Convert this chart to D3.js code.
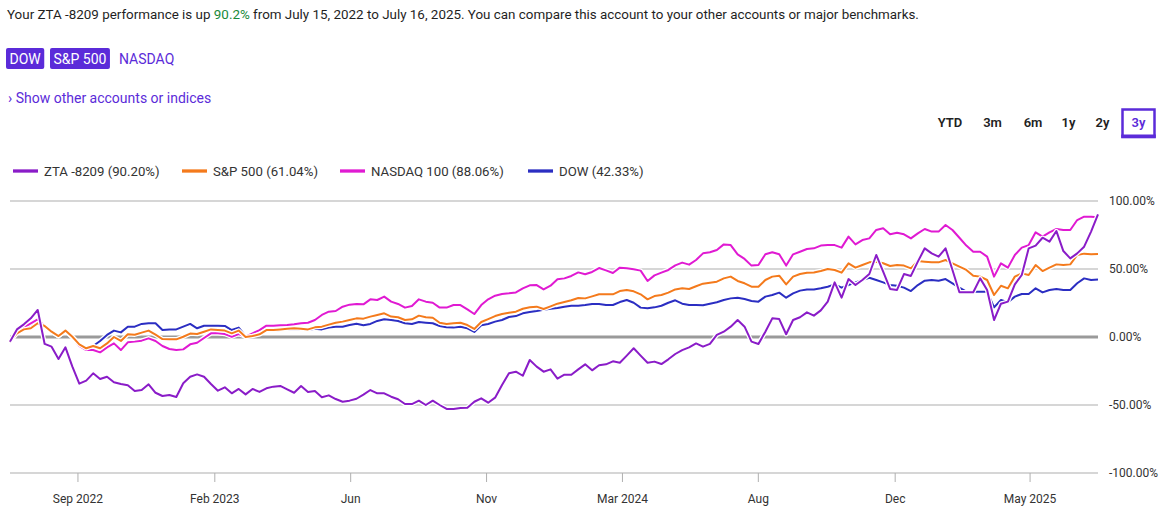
<!DOCTYPE html>
<html>
<head>
<meta charset="utf-8">
<script src="https://cdn.jsdelivr.net/npm/d3@7"></script>
<style>
  body { margin: 0; background: #fff; }
  svg text { font-family: Roboto, "Noto Sans", sans-serif; }
</style>
</head>
<body>
<div id="chart"></div>
<script>
// weekly returns (%), July 2022 -> July 2025
const ztaValues = [
  -3.4, 5.6, 9.3, 13.7, 19.9, -5.1, -7.1, -16.2, -7.6, -21.8, -34.3, -32.1, -26.7, -30.9, -29.2, -33.3, -34.6, -35.5, -39.7, -39.0,
  -34.8, -41.0, -43.4, -42.6, -44.1, -34.0, -29.2, -27.5, -29.2, -34.6, -39.5, -37.0, -41.4, -38.2, -42.2, -38.2, -40.4, -37.7, -36.5, -36.0,
  -38.5, -41.0, -36.0, -40.4, -39.7, -44.3, -42.9, -45.6, -47.6, -46.8, -45.4, -42.4,
  -39.0, -41.4, -41.4, -43.9, -45.8, -49.3, -49.3, -46.8, -50.0, -46.8, -50.0, -52.9, -52.9, -52.2, -52.0, -47.6, -45.1, -48.3, -44.6, -35.3,
  -26.7, -25.5, -28.5, -16.9, -21.8, -25.5, -23.8, -30.6, -27.7, -27.7, -23.8, -20.1, -24.5, -20.8, -20.1, -17.9, -18.9, -13.7, -8.3, -13.7,
  -18.9, -18.1, -19.9, -16.4, -12.5, -9.6, -7.6, -4.7, -7.1, -5.1,
  1.5, 3.9, 7.6, 12.5, 7.6, -3.4, -5.1, 3.9, 13.7, 13.2, 2.0, 12.5, 14.5, 18.1, 15.7, 19.6, 26.0, 40.2, 28.9, 42.6,
  38.2, 41.9, 46.3, 60.3, 48.0, 35.3, 34.6, 46.3, 44.9, 55.4, 65.2, 61.5, 59.1, 65.2, 49.3, 32.9, 32.9, 32.9, 43.1, 34.6,
  12.5, 24.5, 26.0, 38.7, 45.6, 65.2, 67.2, 73.0, 70.1, 77.9, 63.2, 57.8, 61.5, 66.4, 77.5, 90.2
];
const spxValues = [
  -3.4, 2.7, 5.6, 6.4, 10.1, 8.1, 3.9, 0.7, 4.7, 0.2, -5.4, -8.3, -6.6, -8.3, -4.7, 0.0, -2.9, 2.0, 1.7, 3.2,
  4.7, 1.7, -1.5, -1.7, -1.7, 0.2, 2.5, 2.2, 3.9, 5.6, 5.1, 4.7, 2.7, 4.7, 0.0, 0.7, 2.0, 5.1, 5.1, 5.6,
  6.1, 6.4, 6.1, 5.6, 7.1, 7.6, 9.1, 10.5, 11.3, 12.5, 13.7, 13.5,
  15.0, 16.2, 17.4, 15.0, 14.5, 12.5, 13.0, 15.7, 14.5, 14.2, 10.5, 9.6, 10.1, 10.5, 8.8, 5.9, 11.0, 13.2, 15.4, 16.9,
  17.9, 18.6, 20.8, 21.8, 22.3, 20.6, 22.5, 24.5, 25.7, 27.0, 28.7, 28.4, 29.9, 31.4, 31.4, 31.4, 33.8, 34.6, 33.6, 31.4,
  27.7, 30.1, 30.9, 32.6, 35.0, 35.8, 35.3, 37.3, 39.2, 39.9,
  40.7, 43.1, 44.4, 41.2, 39.5, 37.0, 37.0, 41.9, 44.4, 45.1, 38.7, 44.4, 46.3, 47.3, 47.5, 48.5, 50.0, 49.3, 47.3, 54.2,
  51.0, 52.9, 54.9, 55.4, 54.2, 52.2, 52.9, 52.5, 50.5, 55.9, 55.4, 54.9, 54.9, 56.6, 54.2, 51.7, 49.3, 45.1, 44.4, 41.9,
  30.9, 37.7, 35.8, 44.4, 46.8, 45.6, 52.9, 48.5, 51.0, 53.4, 52.9, 53.4, 60.3, 61.3, 60.8, 61.04
];
const ndxValues = [
  -3.4, 3.9, 7.1, 10.1, 13.0, 8.1, 3.9, 0.7, 4.7, -0.2, -6.6, -9.6, -9.6, -11.3, -7.6, -4.7, -9.6, -3.9, -3.4, -2.7,
  -1.0, -2.9, -6.6, -8.8, -9.6, -9.1, -5.4, -4.2, -0.7, 2.7, 2.7, 2.2, 0.2, 2.2, 0.2, 2.7, 5.1, 8.3, 8.3, 8.6,
  8.8, 9.3, 10.1, 10.5, 12.5, 16.2, 18.6, 19.1, 22.3, 23.8, 24.3, 24.0,
  27.7, 27.2, 29.7, 26.0, 24.3, 21.6, 22.8, 27.7, 26.0, 25.2, 21.6, 21.6, 23.5, 23.5, 20.3, 16.9, 23.5, 27.7, 30.4, 31.6,
  32.1, 32.8, 35.8, 38.0, 38.2, 35.0, 37.7, 42.4, 43.1, 44.9, 47.5, 46.1, 47.8, 50.7, 49.0, 47.1, 51.0, 50.5, 49.8, 48.8,
  41.2, 45.3, 47.3, 49.3, 52.7, 54.7, 53.2, 56.6, 61.5, 62.3,
  64.0, 68.1, 67.6, 60.8, 57.4, 52.5, 52.9, 60.8, 62.3, 60.8, 52.5, 60.8, 62.7, 64.7, 65.2, 67.2, 67.6, 67.6, 65.7, 73.8,
  68.1, 71.3, 72.5, 78.7, 79.9, 75.5, 76.7, 75.5, 72.5, 76.2, 79.4, 77.5, 77.5, 82.4, 78.7, 73.0, 67.2, 62.7, 62.7, 59.1,
  44.4, 54.2, 51.0, 60.3, 65.7, 67.6, 77.0, 73.8, 77.0, 79.4, 78.7, 78.7, 86.0, 88.5, 88.5, 88.06
];
const dowValues = [
  -3.4, 3.9, 6.4, 7.6, 12.0, 8.1, 3.9, 0.7, 4.7, 0.2, -5.4, -7.8, -6.6, -2.9, 1.5, 4.7, 3.4, 7.6, 7.6, 9.6,
  10.1, 10.1, 5.1, 5.6, 5.6, 7.6, 9.6, 6.4, 8.3, 8.3, 8.3, 8.1, 5.1, 6.9, 0.7, 2.0, 2.2, 4.7, 4.7, 5.1,
  5.6, 5.9, 5.6, 5.1, 6.1, 5.6, 6.9, 7.6, 7.6, 8.8, 9.8, 8.6,
  9.6, 11.8, 13.0, 12.5, 11.8, 10.1, 9.6, 11.0, 10.5, 10.1, 8.1, 7.1, 6.9, 7.6, 6.4, 3.7, 8.6, 9.6, 11.3, 12.5,
  14.7, 15.4, 17.4, 18.4, 19.1, 20.1, 20.8, 21.3, 22.3, 23.0, 23.0, 23.5, 24.3, 24.3, 23.5, 23.5, 25.7, 27.2, 25.2, 21.6,
  21.1, 21.8, 23.0, 25.2, 27.0, 24.5, 23.5, 23.5, 23.3, 24.5,
  25.5, 27.2, 28.4, 28.9, 27.9, 26.5, 26.0, 29.7, 30.9, 32.6, 28.9, 32.1, 34.1, 35.0, 35.0, 35.8, 37.0, 38.7, 36.3, 38.2,
  40.2, 41.9, 43.6, 41.9, 40.2, 38.2, 37.7, 36.3, 33.8, 38.2, 41.4, 41.9, 41.4, 42.6, 39.5, 36.3, 33.3, 33.3, 33.3, 33.3,
  21.8, 27.2, 25.5, 29.7, 31.6, 31.6, 35.8, 32.8, 34.6, 35.3, 34.6, 34.6, 39.5, 43.1, 41.9, 42.33
];

const startDate = new Date(2022, 6, 15);
const endDate = new Date(2025, 6, 16);

const legendLabels = ['ZTA -8209 (90.20%)', 'S&P 500 (61.04%)', 'NASDAQ 100 (88.06%)', 'DOW (42.33%)'];
const tickDates = ['2022-09-21', '2023-02-06', '2023-06-23', '2023-11-07', '2024-03-23', '2024-08-07', '2024-12-23', '2025-05-08'];
const tickLabels = ['Sep 2022', 'Feb 2023', 'Jun', 'Nov', 'Mar 2024', 'Aug', 'Dec', 'May 2025'];
const yTicks = [-100, -50, 0, 50, 100];
const periods = ['YTD', '3m', '6m', '1y', '2y', '3y'];
const benchmarks = ['DOW', 'S&P 500', 'NASDAQ'];

const purple = '#5b2bd9';
const colors = { zta: '#8a1cc8', spx: '#f47a1c', ndx: '#e01ad2', dow: '#2b2ec2' };

const width = 1164, height = 509;
const plot = { left: 10, right: 1098, top: 201, bottom: 473 };

const svg = d3.select('#chart').append('svg')
    .attr('width', width)
    .attr('height', height);

// header text
const title = svg.append('text')
    .attr('x', 7).attr('y', 18.5)
    .attr('font-size', 13.4)
    .attr('fill', '#1f1f1f');
title.append('tspan').text('Your ZTA -8209 performance is up ');
title.append('tspan').attr('fill', '#1a8a3a').text('90.2%');
title.append('tspan').text(' from July 15, 2022 to July 16, 2025. You can compare this account to your other accounts or major benchmarks.');

// benchmark toggles
const btnX = [6, 50, 119];
benchmarks.forEach((b, i) => {
    const g = svg.append('g');
    const t = g.append('text')
        .attr('x', btnX[i] + (i < 2 ? 3.5 : 0)).attr('y', 63.5)
        .attr('font-size', 14)
        .attr('fill', i < 2 ? '#fff' : purple)
        .text(b);
    if (i < 2) {
        const w = t.node().getComputedTextLength();
        g.insert('rect', 'text')
            .attr('x', btnX[i]).attr('y', 48)
            .attr('width', w + 7).attr('height', 21)
            .attr('rx', 2)
            .attr('fill', purple);
    }
});

svg.append('text')
    .attr('x', 8).attr('y', 103)
    .attr('font-size', 14)
    .attr('fill', purple)
    .text('\u203A Show other accounts or indices');

// period selector
const periodX = [950, 992.5, 1033, 1068.5, 1102.5, 1138.5];
svg.selectAll('.period')
    .data(periods)
    .enter().append('text')
        .attr('class', 'period')
        .attr('x', (d, i) => periodX[i])
        .attr('y', 127)
        .attr('text-anchor', 'middle')
        .attr('font-size', 13)
        .attr('font-weight', 600)
        .attr('fill', d => d === '3y' ? purple : '#222')
        .text(d => d);
svg.append('rect')
    .attr('x', 1122.5).attr('y', 109.5)
    .attr('width', 32).attr('height', 27)
    .attr('fill', 'none')
    .attr('stroke', purple)
    .attr('stroke-width', 2.5);
svg.append('rect')
    .attr('x', 1121.2).attr('y', 134.5)
    .attr('width', 34.6).attr('height', 3.8)
    .attr('fill', purple);

// legend
const legendX = [13, 182, 340, 528];
const legendColors = [colors.zta, colors.spx, colors.ndx, colors.dow];
const legend = svg.selectAll('.legend')
    .data(legendLabels)
    .enter().append('g')
        .attr('class', 'legend')
        .attr('transform', (d, i) => `translate(${legendX[i]}, 171)`);
legend.append('line')
    .attr('x1', 0).attr('x2', 25)
    .attr('stroke', (d, i) => legendColors[i])
    .attr('stroke-width', 3.3);
legend.append('text')
    .attr('x', 31).attr('y', 4.5)
    .attr('font-size', 13.2)
    .attr('fill', '#333')
    .text(d => d);

// scales
const n = ztaValues.length;
const idxToTime = d3.scaleLinear().domain([0, n - 1]).range([+startDate, +endDate]);
const dates = d3.range(n).map(i => new Date(idxToTime(i)));

const x = d3.scaleTime()
    .domain([startDate, endDate])
    .range([plot.left, plot.right]);
const y = d3.scaleLinear()
    .domain([-100, 100])
    .range([plot.bottom, plot.top]);

// grid
svg.append('g').selectAll('line')
    .data(yTicks)
    .enter().append('line')
        .attr('x1', plot.left).attr('x2', plot.right)
        .attr('y1', d => y(d)).attr('y2', d => y(d))
        .attr('stroke', d => d === 0 ? '#9a9a9a' : '#c8c8c8')
        .attr('stroke-width', d => d === 0 ? 3 : 1.5);

// y axis labels
const fmtPct = d => (d < 0 ? '-' : '') + Math.abs(d).toFixed(2) + '%';
const yAxis = d3.axisRight(y)
    .tickValues(yTicks)
    .tickSize(0)
    .tickPadding(11)
    .tickFormat(fmtPct);
const yAxisGroup = svg.append('g')
    .attr('transform', `translate(${plot.right}, 0)`)
    .call(yAxis);
yAxisGroup.select('.domain').remove();
yAxisGroup.selectAll('text')
    .attr('font-family', 'Roboto, "Noto Sans", sans-serif')
    .attr('font-size', 12)
    .attr('fill', '#333');

// x axis
const parseDate = d3.timeParse('%Y-%m-%d');
const xAxis = d3.axisBottom(x)
    .tickValues(tickDates.map(parseDate))
    .tickSize(9)
    .tickPadding(12)
    .tickFormat((d, i) => tickLabels[i]);
const xAxisGroup = svg.append('g')
    .attr('transform', `translate(0, ${plot.bottom})`)
    .call(xAxis);
xAxisGroup.select('.domain').remove();
xAxisGroup.selectAll('line').attr('stroke', '#b0b0b0');
xAxisGroup.selectAll('text')
    .attr('font-family', 'Roboto, "Noto Sans", sans-serif')
    .attr('font-size', 12)
    .attr('fill', '#333');

// series, bottom to top
const series = [
    { values: dowValues, color: colors.dow },
    { values: ndxValues, color: colors.ndx },
    { values: spxValues, color: colors.spx },
    { values: ztaValues, color: colors.zta }
];
const line = d3.line()
    .x((d, i) => x(dates[i]))
    .y(d => y(d));

const lines = svg.append('g');
series.forEach(s => {
    lines.append('path')
        .datum(s.values)
        .attr('fill', 'none')
        .attr('stroke', '#fff')
        .attr('stroke-width', 4.5)
        .attr('stroke-linejoin', 'round')
        .attr('d', line);
    lines.append('path')
        .datum(s.values)
        .attr('fill', 'none')
        .attr('stroke', s.color)
        .attr('stroke-width', 2)
        .attr('stroke-linejoin', 'round')
        .attr('d', line);
});
</script>
</body>
</html>
